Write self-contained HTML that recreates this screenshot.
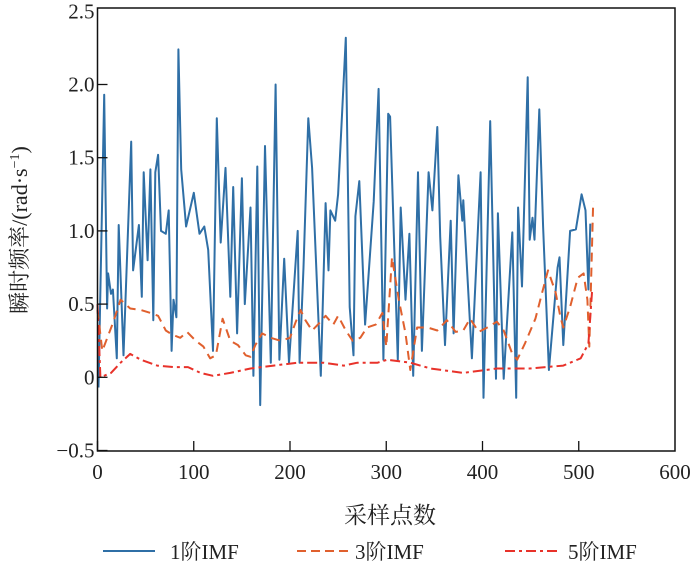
<!DOCTYPE html>
<html><head><meta charset="utf-8"><style>
body{margin:0;background:#fff;}
text{font-family:"Liberation Serif","Noto Serif CJK SC",serif;fill:#222;}
</style></head><body>
<svg width="700" height="568" style="position:absolute;left:0;top:0">
<g id="g"></g>
<rect x="97.5" y="8" width="577.5" height="443" fill="none" stroke="#111" stroke-width="1.5"/>
<g stroke="#111" stroke-width="1.3">
<line x1="97.5" x2="97.5" y1="451" y2="441"/><line x1="193.75" x2="193.75" y1="451" y2="441"/><line x1="290" x2="290" y1="451" y2="441"/><line x1="386.25" x2="386.25" y1="451" y2="441"/><line x1="482.5" x2="482.5" y1="451" y2="441"/><line x1="578.75" x2="578.75" y1="451" y2="441"/>
</g>
<g stroke="#111" stroke-width="1.3">
<line x1="97.5" x2="107.5" y1="450.5" y2="450.5"/><line x1="97.5" x2="107.5" y1="377.3" y2="377.3"/><line x1="97.5" x2="107.5" y1="304.1" y2="304.1"/><line x1="97.5" x2="107.5" y1="230.9" y2="230.9"/><line x1="97.5" x2="107.5" y1="157.7" y2="157.7"/><line x1="97.5" x2="107.5" y1="84.5" y2="84.5"/>
</g>
<text x="390" y="523" text-anchor="middle" font-size="23">采样点数</text>
<text transform="translate(27,230) rotate(-90)" text-anchor="middle" font-size="22">瞬时频率/(rad·s<tspan dy="-8" font-size="14">−1</tspan><tspan dy="8">)</tspan></text>
<g>
<line x1="103" x2="155" y1="551" y2="551" stroke="#2f6fa6" stroke-width="2"/>
<text x="170" y="559" font-size="21">1阶IMF</text>
<line x1="297" x2="350" y1="551" y2="551" stroke="#e0602e" stroke-width="2" stroke-dasharray="9,5"/>
<text x="355" y="559" font-size="21">3阶IMF</text>
<line x1="505" x2="557" y1="551" y2="551" stroke="#e8322a" stroke-width="2" stroke-dasharray="10,4,3,4"/>
<text x="568" y="559" font-size="21">5阶IMF</text>
</g>
</svg>
<script>
const xTicks=[0,100,200,300,400,500,600];
const yTicks=[-0.5,0,0.5,1.0,1.5,2.0,2.5];
const yTickLabels=["\u22120.5","0","0.5","1.0","1.5","2.0","2.5"];
const imf1X=[1,7,10,11,14,16,20,22,27,35,37,43,46,48,52,55,58,60,63,66,71,74,77,79,82,84,87,92,100,106,111,115,120,124,128,133,138,141,145,150,153,159,162,166,169,174,180,185,189,194,199,208,210,214,219,223,232,237,240,242,247,250,258,262,266,268,272,278,287,292,297,302,304,312,315,320,324,328,333,337,344,348,353,356,361,367,370,375,379,380,389,398,401,408,414,416,422,431,435,437,441,447,449,452,454,459,463,469,478,480,484,491,497,503,507,510,512];
const imf1Y=[-0.07,1.93,0.47,0.71,0.57,0.6,0.13,1.04,0.15,1.61,0.73,1.04,0.55,1.4,0.8,1.42,0.39,1.4,1.52,1.0,0.98,1.14,0.18,0.53,0.41,2.24,1.42,1.03,1.26,0.98,1.03,0.87,0.18,1.77,0.92,1.43,0.55,1.3,0.3,1.36,0.5,1.16,0.01,1.44,-0.19,1.58,0.1,2.0,0.12,0.81,0.1,1.0,0.1,0.75,1.77,1.43,0.01,1.19,0.73,1.14,1.07,1.25,2.32,0.48,0.15,1.1,1.34,0.36,1.2,1.97,0.12,1.8,1.78,0.12,1.16,0.53,0.98,0.01,1.4,0.18,1.4,1.14,1.71,0.96,0.22,1.07,0.3,1.38,1.07,1.21,0.13,1.4,-0.14,1.75,-0.01,1.12,-0.01,0.99,-0.14,1.16,0.62,2.05,0.94,1.09,0.94,1.83,1.03,0.05,0.75,0.82,0.22,1.0,1.01,1.25,1.14,0.6,1.05];
const imf3X=[0,5,16,24,34,45,55,63,71,78,86,93,102,110,117,123,130,138,146,154,159,164,171,180,190,200,206,211,216,223,229,237,245,250,258,265,273,280,289,296,300,306,313,320,325,332,343,353,363,372,380,387,396,405,415,422,431,436,444,455,462,468,476,481,484,491,499,505,509,511,513,515];
const imf3Y=[0.46,0.18,0.37,0.53,0.47,0.46,0.44,0.42,0.32,0.29,0.27,0.31,0.25,0.21,0.13,0.15,0.40,0.25,0.22,0.15,0.14,0.22,0.30,0.27,0.25,0.27,0.38,0.46,0.39,0.32,0.36,0.42,0.36,0.42,0.32,0.25,0.27,0.34,0.36,0.44,0.21,0.82,0.53,0.30,0.05,0.34,0.34,0.32,0.39,0.31,0.32,0.40,0.31,0.34,0.38,0.32,0.16,0.12,0.23,0.40,0.58,0.73,0.58,0.41,0.34,0.48,0.68,0.71,0.53,0.21,0.71,1.2];
const imf5X=[0,3,14,24,34,45,62,79,94,107,120,138,159,183,208,235,256,270,291,301,325,346,380,415,449,484,502,510,514];
const imf5Y=[0.5,0,0.03,0.10,0.16,0.12,0.08,0.07,0.07,0.03,0.01,0.03,0.06,0.08,0.10,0.10,0.08,0.10,0.10,0.12,0.10,0.06,0.03,0.06,0.06,0.08,0.13,0.23,0.6];

const L=97.5,R=675,T=8,B=451;
const X=v=>L+(v-0)/600*(R-L);
const Y=v=>377.3-v*146.4;
const g=document.getElementById('g');
const NS='http://www.w3.org/2000/svg';
function mk(t,a){const e=document.createElementNS(NS,t);for(const k in a)e.setAttribute(k,a[k]);g.appendChild(e);return e;}
function series(xs,ys,color,dash,name){
  const d=xs.map((x,i)=>(i?'L':'M')+X(x).toFixed(1)+','+Y(ys[i]).toFixed(1)).join('');
  const p=mk('path',{d:d,fill:'none',stroke:color,'stroke-width':2,'stroke-dasharray':dash||'none','stroke-linejoin':'round'});
  
  
}
series(imf1X,imf1Y,'#2f6fa6','','series-imf1');
series(imf3X,imf3Y,'#e0602e','9,6','series-imf3');
series(imf5X,imf5Y,'#e8322a','10,4,3,4','series-imf5');
xTicks.forEach(v=>{
  const l=mk('text',{x:X(v),y:B+28,'text-anchor':'middle','font-size':21});
  l.textContent=v;
  
  
});
yTicks.forEach((v,i)=>{
  const l=mk('text',{x:L-3,y:Y(v)+7,'text-anchor':'end','font-size':21});
  l.textContent=yTickLabels[i];
  
  
});
</script>
</body></html>
